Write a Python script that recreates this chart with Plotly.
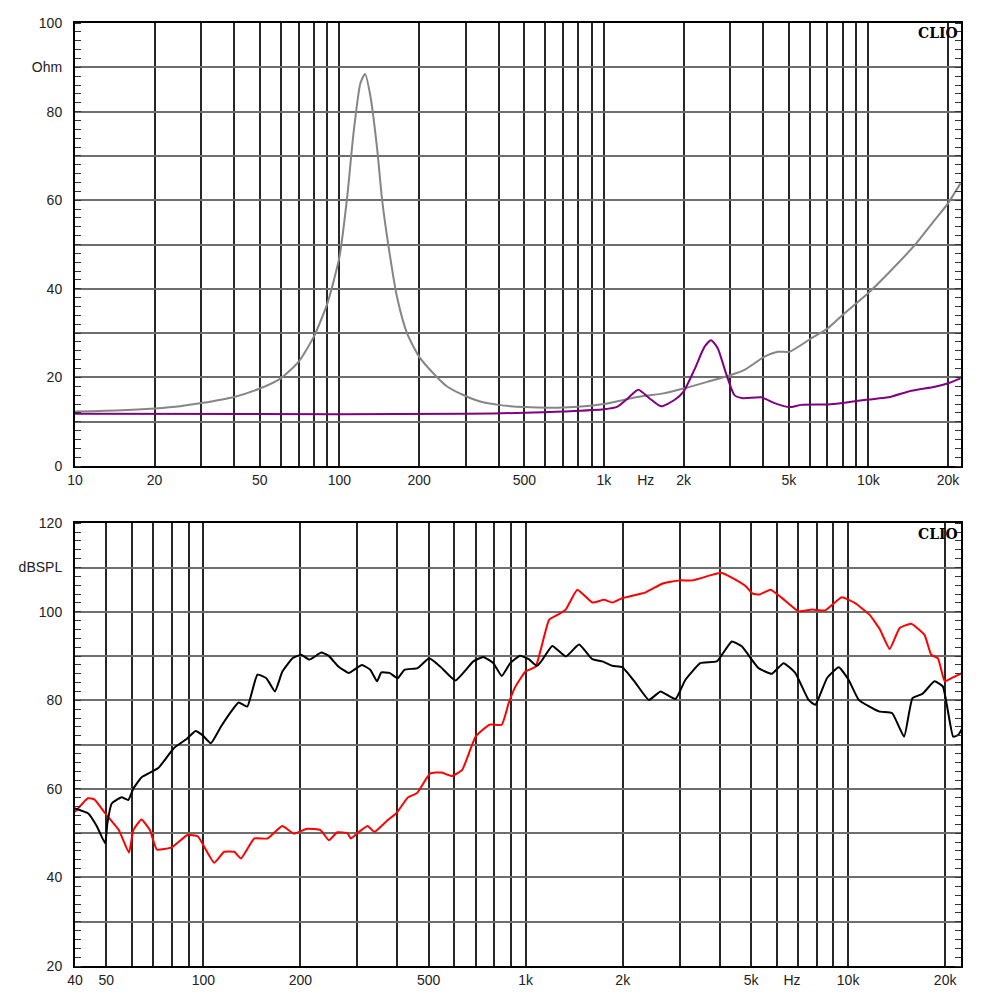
import plotly.graph_objects as go

# ---- impedance panel (top) ----
imp_grey_freq = [10, 15, 20, 25, 30, 40, 50, 60, 70, 80, 90, 100, 107, 113, 120, 125, 131, 139,
                 145, 154, 165, 180, 200, 230, 256, 300, 343, 400, 500, 700, 1000, 1340, 1680,
                 2000, 2460, 3000, 3400, 4050, 4550, 5030, 6080, 7030, 8130, 9970, 12200, 15000,
                 17800, 20000, 22300]
imp_grey_ohm = [12.3, 12.6, 13.0, 13.5, 14.2, 15.6, 17.5, 19.8, 23.5, 29.2, 36.7, 47.2, 60.8, 75.1,
                86.4, 88.5, 83.4, 71.3, 60.0, 48.8, 38.2, 30.0, 24.7, 20.5, 17.9, 15.8, 14.5, 13.8,
                13.3, 13.2, 14.0, 15.6, 16.4, 17.5, 19.0, 20.5, 21.7, 24.7, 25.8, 25.8, 28.8, 31.1,
                34.5, 39.0, 44.2, 49.9, 55.5, 59.3, 63.8]

imp_purple_freq = [10, 100, 300, 500, 700, 1000, 1125, 1233, 1349, 1485, 1644, 1847, 2000, 2197,
                   2400, 2542, 2693, 2896, 3116, 3352, 3933, 4417, 5035, 5575, 7030, 8130, 9970,
                   11900, 14540, 17830, 20050, 22300]
imp_purple_ohm = [11.8, 11.7, 11.8, 12.0, 12.3, 12.8, 13.4, 15.3, 17.2, 15.3, 13.5, 14.9, 16.8,
                  21.7, 26.9, 28.4, 26.6, 20.9, 16.0, 15.3, 15.5, 14.2, 13.3, 13.8, 13.9, 14.3,
                  15.0, 15.5, 17.0, 17.9, 18.7, 19.8]

# ---- SPL panel (bottom) ----
spl_black_freq = [40, 43.9, 46.8, 49.6, 50.4, 52, 55.8, 58.5, 60.7, 64.3, 72.5, 81, 89.2, 94.6,
                  99.2, 105.5, 113.5, 122.9, 128.7, 136.9, 147.2, 156.9, 166.8, 175.9, 189.1,
                  201.3, 213.4, 232.3, 244.5, 262.9, 282.7, 310.3, 329.6, 346, 356.6, 377.9,
                  400.9, 420.6, 462.3, 502, 544, 605.6, 688.2, 739, 793.8, 842.7, 895.1, 960.6,
                  1022, 1084, 1127, 1209, 1331, 1464, 1610, 1729, 1857, 1994, 2193, 2411, 2620,
                  2913, 3127, 3480, 3917, 4357, 4680, 5270, 5798, 6306, 6855, 7540, 7912, 8600,
                  9354, 10044, 10792, 12459, 13707, 14917, 15837, 17026, 18530, 19683, 21180,
                  21966, 22600]
spl_black_db = [55.6, 54.5, 51.5, 47.7, 52.2, 56.7, 58.1, 57.5, 60.1, 62.6, 64.7, 69.2, 71.4, 73.1,
                72.2, 70.3, 74.1, 77.8, 79.5, 78.6, 85.8, 85.0, 82.0, 86.5, 89.5, 90.3, 89.2, 90.8,
                90.1, 87.6, 86.2, 88.0, 86.9, 84.3, 86.3, 86.2, 85.0, 86.9, 87.3, 89.5, 87.6, 84.5,
                88.8, 89.8, 88.4, 85.5, 88.4, 90.1, 89.3, 87.8, 89.2, 92.3, 89.9, 92.6, 89.3, 88.8,
                87.8, 87.5, 83.9, 80.1, 82.0, 80.3, 84.6, 88.4, 88.8, 93.3, 92.2, 87.3, 86.0, 88.4,
                86.2, 80.1, 79.0, 85.0, 87.5, 84.6, 80.1, 77.5, 77.1, 71.8, 80.5, 81.5, 84.3, 83.1,
                71.8, 72.2, 73.7]

spl_red_freq = [40, 43.9, 46, 49.6, 54.7, 58.8, 60.7, 64.3, 68.3, 71.8, 79.8, 89.3, 96.1, 108.1,
                116.1, 124.8, 130.9, 144, 158.3, 175.7, 190.9, 209.9, 230.9, 245.2, 260.6, 279.9,
                286.8, 300.6, 323.3, 339.5, 373.8, 397, 431.7, 459.4, 505.7, 549.2, 590.8, 635.4,
                699.3, 772.4, 842.7, 885.6, 929.3, 998.9, 1074, 1113, 1182, 1255, 1331, 1446,
                1610, 1750, 1857, 1994, 2357, 2660, 2998, 3297, 3804, 4039, 4385, 4826, 5060,
                5302, 5750, 6243, 7030, 7720, 8490, 9550, 10490, 11670, 12530, 13460, 14440,
                15690, 17260, 18100, 19000, 19940, 20920, 22600]
spl_red_db = [54.8, 57.9, 57.6, 54.5, 50.7, 45.6, 50.7, 53.1, 50.7, 46.3, 46.8, 49.6, 49.3, 43.3,
              45.8, 45.8, 44.3, 48.8, 48.8, 51.6, 49.9, 51.0, 50.7, 48.4, 50.2, 50.0, 48.8, 50.0,
              51.6, 50.3, 53.0, 54.5, 58.1, 59.0, 63.5, 63.7, 62.9, 64.3, 71.8, 74.5, 74.5, 79.4,
              83.1, 86.5, 87.6, 91.4, 98.2, 99.3, 100.5, 105.0, 102.1, 102.7, 102.1, 103.1,
              104.4, 106.4, 107.1, 107.1, 108.4, 108.8, 107.6, 105.7, 104.1, 103.9, 105.0,
              103.1, 100.1, 100.5, 100.3, 103.3, 102.0, 99.3, 96.1, 91.6, 96.3, 97.3, 94.8,
              90.3, 89.5, 84.3, 85.0, 86.2]

# ---- axis labels ----
top_xtick_vals = [10, 20, 50, 100, 200, 500, 1000, 1440, 2000, 5000, 10000, 20000]
top_xtick_text = ["10", "20", "50", "100", "200", "500", "1k", "Hz", "2k", "5k", "10k", "20k"]
bot_xtick_vals = [40, 50, 100, 200, 500, 1000, 2000, 5000, 6700, 10000, 20000]
bot_xtick_text = ["40", "50", "100", "200", "500", "1k", "2k", "5k", "Hz", "10k", "20k"]
top_ytick_vals = [0, 10, 20, 30, 40, 50, 60, 70, 80, 90, 100]
top_ytick_text = ["0", "", "20", "", "40", "", "60", "", "80", "Ohm", "100"]
bot_ytick_vals = [20, 30, 40, 50, 60, 70, 80, 90, 100, 110, 120]
bot_ytick_text = ["20", "", "40", "", "60", "", "80", "", "100", "dBSPL", "120"]

grid_top = [m * 10 ** d for d in range(1, 5) for m in range(1, 10) if 10 < m * 10 ** d <= 20000]
grid_bot = [m * 10 ** d for d in range(1, 5) for m in range(1, 10) if 40 < m * 10 ** d <= 20000]

FONT = "Liberation Sans, Arial, sans-serif"
VGRID = "#262626"
HGRID = "#6e6e6e"

fig = go.Figure()
fig.add_trace(go.Scatter(x=imp_grey_freq, y=imp_grey_ohm, mode="lines",
                         line=dict(color="#858585", width=2, shape="spline", smoothing=0.6),
                         xaxis="x", yaxis="y", showlegend=False))
fig.add_trace(go.Scatter(x=imp_purple_freq, y=imp_purple_ohm, mode="lines",
                         line=dict(color="#800080", width=2, shape="spline", smoothing=0.6),
                         xaxis="x", yaxis="y", showlegend=False))
fig.add_trace(go.Scatter(x=spl_red_freq, y=spl_red_db, mode="lines",
                         line=dict(color="#ff0000", width=2, shape="spline", smoothing=0.4),
                         xaxis="x2", yaxis="y2", showlegend=False))
fig.add_trace(go.Scatter(x=spl_black_freq, y=spl_black_db, mode="lines",
                         line=dict(color="#000000", width=2, shape="spline", smoothing=0.4),
                         xaxis="x2", yaxis="y2", showlegend=False))


def xaxis_cfg(lo, hi, vals, text, grid, anchor):
    return dict(type="log", range=[lo, hi], anchor=anchor, automargin=False,
                tickmode="array", tickvals=vals, ticktext=text, ticks="",
                showgrid=False, zeroline=False,
                showline=True, linecolor="black", linewidth=2, mirror=True,
                minor=dict(tickmode="array", tickvals=grid, showgrid=True,
                           gridcolor=VGRID, gridwidth=1.5, ticks=""),
                tickfont=dict(family=FONT, size=14, color="#222"))


def yaxis_cfg(lo, hi, vals, text, anchor, domain):
    return dict(range=[lo, hi], domain=domain, anchor=anchor, automargin=False,
                tickmode="array", tickvals=vals, ticktext=text, ticks="",
                showgrid=True, gridcolor=HGRID, gridwidth=1.5, zeroline=False,
                showline=True, linecolor="black", linewidth=2, mirror="ticks",
                minor=dict(dtick=2, ticks="inside", ticklen=6, tickcolor="#333",
                           tickwidth=1, showgrid=False),
                ticklabelstandoff=8,
                tickfont=dict(family=FONT, size=14, color="#222"))


# the page body adds an 8 px offset, margins compensate for it
fig.update_layout(
    width=1000, height=1000,
    margin=dict(l=67, r=47, t=15, b=42, autoexpand=False),
    paper_bgcolor="white", plot_bgcolor="white",
    xaxis=xaxis_cfg(1, 4.3502, top_xtick_vals, top_xtick_text, grid_top, "y"),
    yaxis=yaxis_cfg(0, 100, top_ytick_vals, top_ytick_text, "x", [0.5302, 1.0]),
    xaxis2=xaxis_cfg(1.60206, 4.3502, bot_xtick_vals, bot_xtick_text, grid_bot, "y2"),
    yaxis2=yaxis_cfg(20, 120, bot_ytick_vals, bot_ytick_text, "x2", [0.0, 0.4695]),
)

for xr, yr in [("x domain", "y domain"), ("x2 domain", "y2 domain")]:
    fig.add_annotation(text="<b>CLIO</b>", xref=xr, yref=yr, x=0.999, y=0.999,
                       xanchor="right", yanchor="top", showarrow=False,
                       font=dict(family="DejaVu Serif, Liberation Serif, serif", size=14,
                                 color="black"))

fig.write_html("out.html")
